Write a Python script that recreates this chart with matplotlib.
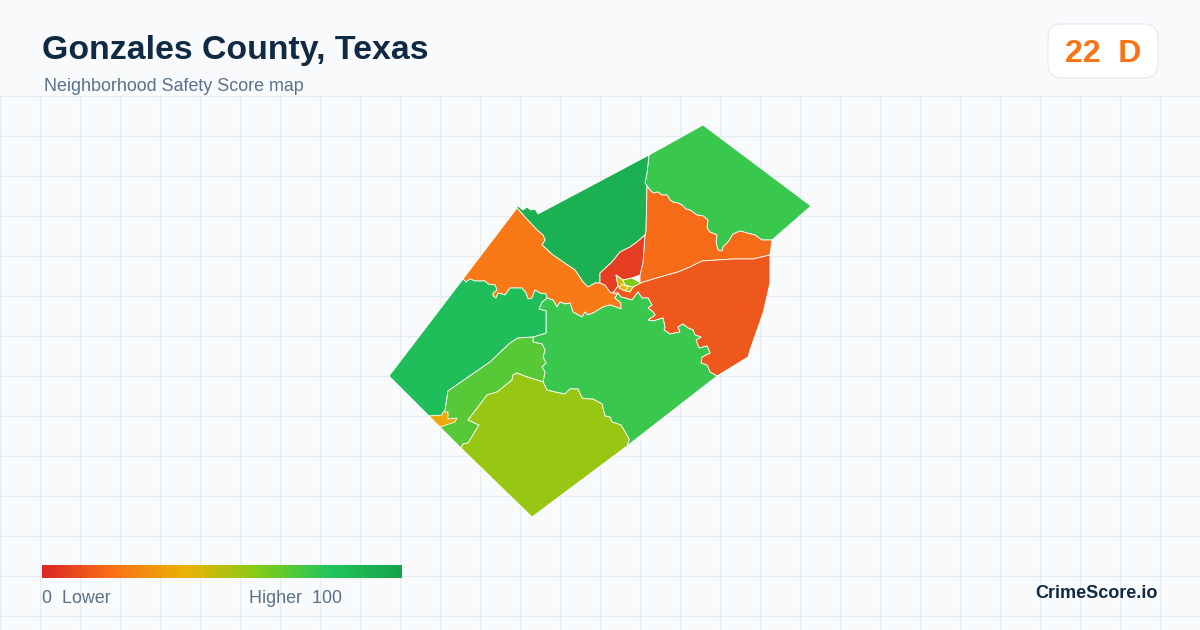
import numpy as np
import matplotlib
matplotlib.use('Agg')
import matplotlib.pyplot as plt
from matplotlib.colors import LinearSegmentedColormap
from matplotlib.patches import FancyBboxPatch

plt.rcParams['font.family'] = ['Liberation Sans', 'DejaVu Sans']

# map, in image pixels
north_edge = [(517, 207), (518, 206), (523, 210), (527, 207), (531, 210), (535, 209), (538, 214)]
ab = [(649, 155), (647, 173), (645, 183), (647, 186)]
ai = [(647, 186), (650, 190), (653, 193), (658, 192), (662, 195), (667, 195), (670, 200), (673, 202),
      (678, 203), (682, 205), (686, 209), (690, 210), (697, 215), (703, 216), (708, 220), (707, 228),
      (710, 232), (717, 235), (716, 242), (718, 250), (722, 251), (723, 247), (728, 242),
      (733, 234), (740, 231), (747, 233), (755, 235), (762, 240), (772, 240)]
bi = [(647, 186), (646, 232), (645, 235)]
ij = [(640, 283), (640, 275), (643, 262), (645, 235)]
ih = [(770, 255), (753, 259), (733, 259), (702, 261), (690, 267), (678, 272), (660, 277), (640, 283)]
bj = [(645, 235), (637, 242), (630, 247), (620, 252), (612, 262), (600, 273), (600, 283)]
bc = [(517, 208), (525, 217), (537, 230), (543, 235), (545, 240), (542, 245), (553, 255), (572, 268),
      (575, 270), (583, 282), (588, 287), (595, 283), (600, 283)]
cj = [(600, 283), (605, 285), (610, 292), (613, 293), (618, 293)]
cd = [(463, 279), (466, 282), (470, 279), (475, 281), (485, 281), (488, 284), (495, 285), (497, 290),
      (493, 293), (493, 296), (496, 298), (498, 293), (502, 294), (505, 295), (510, 288), (515, 288),
      (522, 288), (526, 293), (528, 299), (532, 298), (535, 290), (540, 293), (546, 294), (547, 298)]
cg = [(547, 298), (553, 300), (557, 307), (560, 302), (565, 304), (570, 303), (573, 312), (582, 317),
      (585, 312), (588, 315), (595, 312), (603, 307), (610, 305), (616, 307), (621, 309), (621, 303),
      (615, 298), (618, 293)]
gh = [(618, 293), (621, 297), (625, 298), (632, 300), (638, 292), (642, 298), (648, 298), (652, 305),
      (648, 308), (653, 312), (655, 315), (648, 320), (653, 321), (663, 318), (665, 327), (664, 330),
      (670, 334), (680, 332), (678, 327), (683, 324), (688, 328), (693, 330), (695, 335), (701, 337),
      (696, 340), (699, 348), (707, 346), (710, 353), (702, 357), (701, 363), (707, 365), (710, 372),
      (717, 376)]
dg = [(547, 298), (542, 302), (539, 309), (546, 311), (546, 333), (533, 337)]
de = [(533, 337), (518, 338), (510, 343), (490, 362), (448, 391), (445, 410), (442, 417)]
eg = [(533, 337), (533, 342), (542, 344), (545, 350), (543, 357), (546, 363), (542, 367), (545, 372), (543, 382)]
ef = [(543, 382), (537, 380), (527, 377), (517, 373), (513, 375), (512, 380), (497, 392), (487, 395),
      (478, 407), (468, 420), (479, 425), (468, 443), (463, 444), (461, 448)]
fg = [(543, 382), (547, 390), (555, 392), (565, 394), (570, 389), (578, 389), (582, 398), (588, 399),
      (593, 399), (602, 404), (605, 416), (610, 417), (612, 422), (621, 425), (628, 437), (629, 440), (627, 446)]
center_gap = [(633, 287), (630, 292), (623, 290), (618, 286), (613, 293), (618, 293)]
j_center = [(618, 286), (616, 275), (623, 280), (632, 278), (640, 275)]

region_shapes = [
    ab + ai + [(811, 206), (703, 125)],
    north_edge + ab + bi + bj + bc[::-1],
    ai + ih + ij + bi[::-1],
    bc + cj + cg[::-1] + cd[::-1],
    bj + cj[1:4] + j_center + ij[2:],
    ih + center_gap + gh + [(748, 357), (750, 350), (763, 313), (770, 283), (770, 270)],
    cg + gh + fg[::-1] + eg[::-1] + dg[::-1],
    cd + dg + de + [(429, 416), (389, 376)],
    eg + ef + [(440, 427), (442, 417)] + de[::-1],
    fg + [(532, 517)] + ef[::-1],
    [(429, 416), (442, 415), (443, 412), (448, 412), (448, 419), (457, 418), (455, 422), (440, 427)],
    [(616, 275), (623, 280), (625, 285), (633, 287), (630, 292), (623, 290), (618, 286)],
    [(623, 280), (632, 278), (641, 283), (633, 287), (625, 285)],
    [(622, 284), (628, 287), (625, 291), (619, 288)],
]
region_scores = [75, 92, 18, 22, 6, 13, 75, 84, 69, 56, 36, 46, 61, 40]

legend_stops = [0, 0.2, 0.4, 0.6, 0.8, 1]
legend_colors = ['#dc2626', '#f97316', '#eab308', '#84cc16', '#22c55e', '#16a34a']

title = 'Gonzales County, Texas'
subtitle = 'Neighborhood Safety Score map'
badge_text = '22  D'

cmap = LinearSegmentedColormap.from_list('score', list(zip(legend_stops, legend_colors)))

fig = plt.figure(figsize=(12, 6.3), dpi=100, facecolor='#f8fafc')
ax = fig.add_axes([0, 0, 1, 1])
ax.set_axis_off()

# background grid starts under the header
for x in range(0, 1200, 40):
    ax.plot([x + 0.1, x + 0.1], [96.5, 630], color='#e5ecf2', lw=0.8, zorder=1)
for y in range(0, 14):
    ax.plot([0, 1200], [96.3 + y * 40, 96.3 + y * 40], color='#e5ecf2', lw=0.8, zorder=1)

for shape, score in zip(region_shapes, region_scores):
    xs, ys = zip(*shape)
    ax.fill(xs, ys, facecolor=cmap(score / 100), edgecolor='white', lw=0.6, joinstyle='round', zorder=2)

ax.imshow(np.linspace(0, 1, 360).reshape(1, -1), cmap=cmap, extent=(42, 402, 578, 565), aspect='auto', zorder=3)

ax.add_patch(FancyBboxPatch((1062, 38), 82, 26, boxstyle='round,pad=14,rounding_size=14',
                            facecolor='white', edgecolor='#e2e8f0', lw=0.8, zorder=3))

ax.set_xlim(0, 1200)
ax.set_ylim(630, 0)

ax.text(42, 59.5, title, fontsize=24.4, fontweight='bold', color='#102a43', va='baseline', zorder=4)
ax.text(44, 91, subtitle, fontsize=12.9, color='#5a708c', va='baseline', zorder=4)
ax.text(1103, 62, badge_text, fontsize=23, fontweight='bold', color='#f97316', ha='center', va='baseline', zorder=4)
ax.text(42, 603, '0  Lower', fontsize=12.9, color='#5a708c', va='baseline', zorder=4)
ax.text(249, 603, 'Higher  100', fontsize=12.9, color='#5a708c', va='baseline', zorder=4)
ax.text(1158, 598, 'CrimeScore.io', fontsize=13, fontweight='bold', color='#102a43', ha='right', va='baseline', zorder=4)

fig.savefig('out.png', dpi=100, facecolor=fig.get_facecolor())
